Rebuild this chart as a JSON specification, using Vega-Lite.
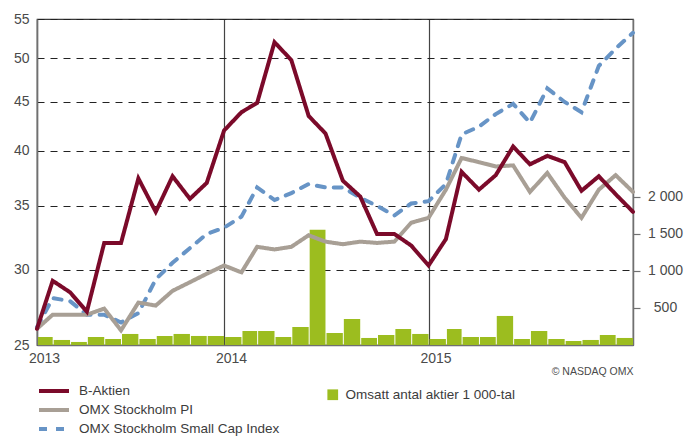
{
  "$schema": "https://vega.github.io/schema/vega-lite/v6.json",
  "width": 596,
  "height": 326,
  "autosize": {"type": "none"},
  "padding": {"left": 37, "top": 19, "right": 53, "bottom": 92},
  "background": "white",
  "config": {
    "font": "Liberation Sans",
    "view": {"stroke": "#3a3a3a", "strokeWidth": 1.2},
    "axis": {"labelFont": "Liberation Sans", "labelColor": "#4a4a4a", "labelFontSize": 14, "domainColor": "#707070", "domainWidth": 1.5, "tickColor": "#707070", "tickWidth": 1.2},
    "legend": {"labelFont": "Liberation Sans", "labelFontSize": 13.5, "labelColor": "#3c3c3c", "labelLimit": 300}
  },
  "datasets": {
    "lines": [
      {"date": "2013-02-01T00:00", "series": "OMX Stockholm Small Cap Index", "value": 26.1},
      {"date": "2013-03-01T00:00", "series": "OMX Stockholm Small Cap Index", "value": 28.0},
      {"date": "2013-04-01T00:00", "series": "OMX Stockholm Small Cap Index", "value": 27.8},
      {"date": "2013-05-01T00:00", "series": "OMX Stockholm Small Cap Index", "value": 26.9},
      {"date": "2013-06-01T00:00", "series": "OMX Stockholm Small Cap Index", "value": 26.9},
      {"date": "2013-07-01T00:00", "series": "OMX Stockholm Small Cap Index", "value": 26.4},
      {"date": "2013-08-01T00:00", "series": "OMX Stockholm Small Cap Index", "value": 27.0},
      {"date": "2013-09-01T00:00", "series": "OMX Stockholm Small Cap Index", "value": 29.3},
      {"date": "2013-10-01T00:00", "series": "OMX Stockholm Small Cap Index", "value": 30.5},
      {"date": "2013-11-01T00:00", "series": "OMX Stockholm Small Cap Index", "value": 31.6},
      {"date": "2013-12-01T00:00", "series": "OMX Stockholm Small Cap Index", "value": 32.7},
      {"date": "2014-01-01T00:00", "series": "OMX Stockholm Small Cap Index", "value": 33.2},
      {"date": "2014-02-01T00:00", "series": "OMX Stockholm Small Cap Index", "value": 34.1},
      {"date": "2014-03-01T00:00", "series": "OMX Stockholm Small Cap Index", "value": 36.6},
      {"date": "2014-04-01T00:00", "series": "OMX Stockholm Small Cap Index", "value": 35.5},
      {"date": "2014-05-01T00:00", "series": "OMX Stockholm Small Cap Index", "value": 36.1},
      {"date": "2014-06-01T00:00", "series": "OMX Stockholm Small Cap Index", "value": 36.9},
      {"date": "2014-07-01T00:00", "series": "OMX Stockholm Small Cap Index", "value": 36.6},
      {"date": "2014-08-01T00:00", "series": "OMX Stockholm Small Cap Index", "value": 36.6},
      {"date": "2014-09-01T00:00", "series": "OMX Stockholm Small Cap Index", "value": 35.7},
      {"date": "2014-10-01T00:00", "series": "OMX Stockholm Small Cap Index", "value": 35.0},
      {"date": "2014-11-01T00:00", "series": "OMX Stockholm Small Cap Index", "value": 34.2},
      {"date": "2014-12-01T00:00", "series": "OMX Stockholm Small Cap Index", "value": 35.2},
      {"date": "2015-01-01T00:00", "series": "OMX Stockholm Small Cap Index", "value": 35.4},
      {"date": "2015-02-01T00:00", "series": "OMX Stockholm Small Cap Index", "value": 36.9},
      {"date": "2015-03-01T00:00", "series": "OMX Stockholm Small Cap Index", "value": 41.6},
      {"date": "2015-04-01T00:00", "series": "OMX Stockholm Small Cap Index", "value": 42.4},
      {"date": "2015-05-01T00:00", "series": "OMX Stockholm Small Cap Index", "value": 43.7},
      {"date": "2015-06-01T00:00", "series": "OMX Stockholm Small Cap Index", "value": 44.8},
      {"date": "2015-07-01T00:00", "series": "OMX Stockholm Small Cap Index", "value": 42.8},
      {"date": "2015-08-01T00:00", "series": "OMX Stockholm Small Cap Index", "value": 46.5},
      {"date": "2015-09-01T00:00", "series": "OMX Stockholm Small Cap Index", "value": 45.0},
      {"date": "2015-10-01T00:00", "series": "OMX Stockholm Small Cap Index", "value": 43.9},
      {"date": "2015-11-01T00:00", "series": "OMX Stockholm Small Cap Index", "value": 49.1},
      {"date": "2015-12-01T00:00", "series": "OMX Stockholm Small Cap Index", "value": 51.2},
      {"date": "2016-01-01T00:00", "series": "OMX Stockholm Small Cap Index", "value": 53.2},
      {"date": "2013-02-01T00:00", "series": "OMX Stockholm PI", "value": 26.0},
      {"date": "2013-03-01T00:00", "series": "OMX Stockholm PI", "value": 26.9},
      {"date": "2013-04-01T00:00", "series": "OMX Stockholm PI", "value": 26.9},
      {"date": "2013-05-01T00:00", "series": "OMX Stockholm PI", "value": 26.9},
      {"date": "2013-06-01T00:00", "series": "OMX Stockholm PI", "value": 27.3},
      {"date": "2013-07-01T00:00", "series": "OMX Stockholm PI", "value": 25.9},
      {"date": "2013-08-01T00:00", "series": "OMX Stockholm PI", "value": 27.7},
      {"date": "2013-09-01T00:00", "series": "OMX Stockholm PI", "value": 27.5},
      {"date": "2013-10-01T00:00", "series": "OMX Stockholm PI", "value": 28.5},
      {"date": "2013-11-01T00:00", "series": "OMX Stockholm PI", "value": 29.1},
      {"date": "2013-12-01T00:00", "series": "OMX Stockholm PI", "value": 29.7},
      {"date": "2014-01-01T00:00", "series": "OMX Stockholm PI", "value": 30.3},
      {"date": "2014-02-01T00:00", "series": "OMX Stockholm PI", "value": 29.8},
      {"date": "2014-03-01T00:00", "series": "OMX Stockholm PI", "value": 31.7},
      {"date": "2014-04-01T00:00", "series": "OMX Stockholm PI", "value": 31.5},
      {"date": "2014-05-01T00:00", "series": "OMX Stockholm PI", "value": 31.7},
      {"date": "2014-06-01T00:00", "series": "OMX Stockholm PI", "value": 32.6},
      {"date": "2014-07-01T00:00", "series": "OMX Stockholm PI", "value": 32.1},
      {"date": "2014-08-01T00:00", "series": "OMX Stockholm PI", "value": 31.9},
      {"date": "2014-09-01T00:00", "series": "OMX Stockholm PI", "value": 32.1},
      {"date": "2014-10-01T00:00", "series": "OMX Stockholm PI", "value": 32.0},
      {"date": "2014-11-01T00:00", "series": "OMX Stockholm PI", "value": 32.1},
      {"date": "2014-12-01T00:00", "series": "OMX Stockholm PI", "value": 33.6},
      {"date": "2015-01-01T00:00", "series": "OMX Stockholm PI", "value": 34.0},
      {"date": "2015-02-01T00:00", "series": "OMX Stockholm PI", "value": 36.4},
      {"date": "2015-03-01T00:00", "series": "OMX Stockholm PI", "value": 39.3},
      {"date": "2015-04-01T00:00", "series": "OMX Stockholm PI", "value": 38.9},
      {"date": "2015-05-01T00:00", "series": "OMX Stockholm PI", "value": 38.5},
      {"date": "2015-06-01T00:00", "series": "OMX Stockholm PI", "value": 38.6},
      {"date": "2015-07-01T00:00", "series": "OMX Stockholm PI", "value": 36.2},
      {"date": "2015-08-01T00:00", "series": "OMX Stockholm PI", "value": 37.9},
      {"date": "2015-09-01T00:00", "series": "OMX Stockholm PI", "value": 35.7},
      {"date": "2015-10-01T00:00", "series": "OMX Stockholm PI", "value": 34.0},
      {"date": "2015-11-01T00:00", "series": "OMX Stockholm PI", "value": 36.4},
      {"date": "2015-12-01T00:00", "series": "OMX Stockholm PI", "value": 37.7},
      {"date": "2016-01-01T00:00", "series": "OMX Stockholm PI", "value": 36.2},
      {"date": "2013-02-01T00:00", "series": "B-Aktien", "value": 26.0},
      {"date": "2013-03-01T00:00", "series": "B-Aktien", "value": 29.2},
      {"date": "2013-04-01T00:00", "series": "B-Aktien", "value": 28.4},
      {"date": "2013-05-01T00:00", "series": "B-Aktien", "value": 27.1},
      {"date": "2013-06-01T00:00", "series": "B-Aktien", "value": 32.0},
      {"date": "2013-07-01T00:00", "series": "B-Aktien", "value": 32.0},
      {"date": "2013-08-01T00:00", "series": "B-Aktien", "value": 37.4},
      {"date": "2013-09-01T00:00", "series": "B-Aktien", "value": 34.5},
      {"date": "2013-10-01T00:00", "series": "B-Aktien", "value": 37.6},
      {"date": "2013-11-01T00:00", "series": "B-Aktien", "value": 35.6},
      {"date": "2013-12-01T00:00", "series": "B-Aktien", "value": 37.0},
      {"date": "2014-01-01T00:00", "series": "B-Aktien", "value": 42.0},
      {"date": "2014-02-01T00:00", "series": "B-Aktien", "value": 43.9},
      {"date": "2014-03-01T00:00", "series": "B-Aktien", "value": 44.9},
      {"date": "2014-04-01T00:00", "series": "B-Aktien", "value": 52.0},
      {"date": "2014-05-01T00:00", "series": "B-Aktien", "value": 49.8},
      {"date": "2014-06-01T00:00", "series": "B-Aktien", "value": 43.5},
      {"date": "2014-07-01T00:00", "series": "B-Aktien", "value": 41.7},
      {"date": "2014-08-01T00:00", "series": "B-Aktien", "value": 37.2},
      {"date": "2014-09-01T00:00", "series": "B-Aktien", "value": 35.8},
      {"date": "2014-10-01T00:00", "series": "B-Aktien", "value": 32.7},
      {"date": "2014-11-01T00:00", "series": "B-Aktien", "value": 32.7},
      {"date": "2014-12-01T00:00", "series": "B-Aktien", "value": 31.8},
      {"date": "2015-01-01T00:00", "series": "B-Aktien", "value": 30.3},
      {"date": "2015-02-01T00:00", "series": "B-Aktien", "value": 32.3},
      {"date": "2015-03-01T00:00", "series": "B-Aktien", "value": 38.0},
      {"date": "2015-04-01T00:00", "series": "B-Aktien", "value": 36.4},
      {"date": "2015-05-01T00:00", "series": "B-Aktien", "value": 37.7},
      {"date": "2015-06-01T00:00", "series": "B-Aktien", "value": 40.4},
      {"date": "2015-07-01T00:00", "series": "B-Aktien", "value": 38.7},
      {"date": "2015-08-01T00:00", "series": "B-Aktien", "value": 39.5},
      {"date": "2015-09-01T00:00", "series": "B-Aktien", "value": 38.9},
      {"date": "2015-10-01T00:00", "series": "B-Aktien", "value": 36.3},
      {"date": "2015-11-01T00:00", "series": "B-Aktien", "value": 37.6},
      {"date": "2015-12-01T00:00", "series": "B-Aktien", "value": 36.0},
      {"date": "2016-01-01T00:00", "series": "B-Aktien", "value": 34.5}
    ],
    "bars": [
      {"month": "2013-02-01T00:00", "volume": 108},
      {"month": "2013-03-01T00:00", "volume": 68},
      {"month": "2013-04-01T00:00", "volume": 41},
      {"month": "2013-05-01T00:00", "volume": 108},
      {"month": "2013-06-01T00:00", "volume": 81},
      {"month": "2013-07-01T00:00", "volume": 149},
      {"month": "2013-08-01T00:00", "volume": 81},
      {"month": "2013-09-01T00:00", "volume": 122},
      {"month": "2013-10-01T00:00", "volume": 149},
      {"month": "2013-11-01T00:00", "volume": 122},
      {"month": "2013-12-01T00:00", "volume": 122},
      {"month": "2014-01-01T00:00", "volume": 108},
      {"month": "2014-02-01T00:00", "volume": 189},
      {"month": "2014-03-01T00:00", "volume": 189},
      {"month": "2014-04-01T00:00", "volume": 108},
      {"month": "2014-05-01T00:00", "volume": 243},
      {"month": "2014-06-01T00:00", "volume": 1554},
      {"month": "2014-07-01T00:00", "volume": 162},
      {"month": "2014-08-01T00:00", "volume": 351},
      {"month": "2014-09-01T00:00", "volume": 95},
      {"month": "2014-10-01T00:00", "volume": 135},
      {"month": "2014-11-01T00:00", "volume": 216},
      {"month": "2014-12-01T00:00", "volume": 149},
      {"month": "2015-01-01T00:00", "volume": 81},
      {"month": "2015-02-01T00:00", "volume": 216},
      {"month": "2015-03-01T00:00", "volume": 108},
      {"month": "2015-04-01T00:00", "volume": 108},
      {"month": "2015-05-01T00:00", "volume": 392},
      {"month": "2015-06-01T00:00", "volume": 81},
      {"month": "2015-07-01T00:00", "volume": 189},
      {"month": "2015-08-01T00:00", "volume": 81},
      {"month": "2015-09-01T00:00", "volume": 54},
      {"month": "2015-10-01T00:00", "volume": 68},
      {"month": "2015-11-01T00:00", "volume": 135},
      {"month": "2015-12-01T00:00", "volume": 95}
    ]
  },
  "layer": [
    {
      "data": {"name": "bars"},
      "mark": {"type": "bar", "timeUnitBandSize": 0.76, "color": "#9cbd1f"},
      "encoding": {
        "x": {
          "field": "month", "timeUnit": "yearmonth", "type": "temporal",
          "scale": {"domain": [{"year": 2013, "month": 2, "date": 1}, {"year": 2016, "month": 1, "date": 1}]},
          "axis": {
            "values": [{"year": 2013, "month": 2, "date": 1}, {"year": 2014, "month": 1, "date": 1}, {"year": 2015, "month": 1, "date": 1}],
            "format": "%Y", "labelAlign": "center", "labelOffset": 7, "labelFlush": false, "labelPadding": 6,
            "ticks": false, "grid": true, "gridColor": "#444444", "gridWidth": 1.2,
            "title": "© NASDAQ OMX", "titleAnchor": "end", "titleFontSize": 10.5, "titleFontWeight": "normal", "titleColor": "#4a4a4a", "titlePadding": 1, "titleFont": "Liberation Sans"
          }
        },
        "y": {
          "field": "volume", "type": "quantitative",
          "scale": {"domain": [0, 4400], "nice": false},
          "axis": {
            "orient": "right", "values": [500, 1000, 1500, 2000],
            "labelExpr": "replace(format(datum.value, ','), ',', ' ')",
            "grid": false, "title": null, "tickSize": 7, "labelAlign": "center", "labelPadding": 25
          }
        },
        "fill": {
          "datum": "Omsatt antal aktier 1 000-tal", "type": "nominal",
          "scale": {"range": ["#9cbd1f"]},
          "legend": {"orient": "none", "legendX": 289, "legendY": 369, "title": null, "symbolType": "square", "symbolSize": 115, "labelOffset": 6, "symbolStrokeWidth": 0, "labelLimit": 300}
        }
      }
    },
    {
      "data": {"name": "lines"},
      "mark": {"type": "line", "strokeWidth": 4, "strokeCap": "round", "strokeJoin": "miter"},
      "encoding": {
        "x": {
          "field": "date", "type": "temporal",
          "scale": {"domain": [{"year": 2013, "month": 2, "date": 1}, {"year": 2016, "month": 1, "date": 1}]},
          "axis": {
            "values": [{"year": 2013, "month": 2, "date": 1}, {"year": 2014, "month": 1, "date": 1}, {"year": 2015, "month": 1, "date": 1}],
            "format": "%Y", "labelAlign": "center", "labelOffset": 7, "labelFlush": false, "labelPadding": 6,
            "ticks": false, "grid": true, "gridColor": "#444444", "gridWidth": 1.2,
            "title": "© NASDAQ OMX", "titleAnchor": "end", "titleFontSize": 10.5, "titleFontWeight": "normal", "titleColor": "#4a4a4a", "titlePadding": 1, "titleFont": "Liberation Sans"
          }
        },
        "y": {
          "field": "value", "type": "quantitative",
          "scale": {"type": "log", "domain": [25, 55], "nice": false},
          "axis": {
            "values": [25, 30, 35, 40, 45, 50, 55], "format": "d",
            "grid": true, "gridDash": [7, 6], "gridColor": "#222222", "gridWidth": 1.2,
            "ticks": false, "labelPadding": 8, "title": null
          }
        },
        "color": {
          "field": "series", "type": "nominal",
          "scale": {"domain": ["B-Aktien", "OMX Stockholm PI", "OMX Stockholm Small Cap Index"], "range": ["#7b0a2a", "#a89f95", "#6794c6"]},
          "legend": {"orient": "none", "legendX": 0, "legendY": 364, "title": null, "symbolType": "stroke", "symbolSize": 900, "symbolStrokeWidth": 4, "labelOffset": 8, "rowPadding": 3, "clipHeight": 16}
        },
        "strokeDash": {
          "field": "series", "type": "nominal",
          "scale": {"domain": ["B-Aktien", "OMX Stockholm PI", "OMX Stockholm Small Cap Index"], "range": [[1, 0], [1, 0], [8, 9]]},
          "legend": {"orient": "none", "legendX": 0, "legendY": 364, "title": null, "symbolType": "stroke", "symbolSize": 900, "symbolStrokeWidth": 4, "labelOffset": 8, "rowPadding": 3, "clipHeight": 16}
        }
      }
    }
  ],
  "resolve": {"scale": {"y": "independent"}}
}
